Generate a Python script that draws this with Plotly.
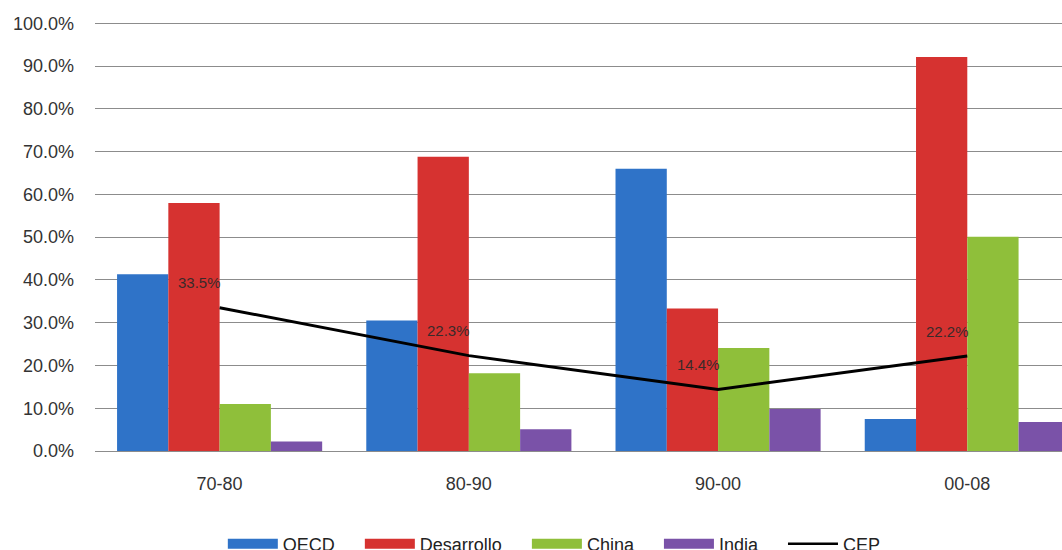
import plotly.graph_objects as go

periods = ["70-80", "80-90", "90-00", "00-08"]
oecd = [0.413, 0.305, 0.660, 0.075]
desarrollo = [0.580, 0.688, 0.333, 0.921]
china = [0.110, 0.182, 0.241, 0.501]
india = [0.022, 0.051, 0.098, 0.068]
cep = [0.335, 0.223, 0.144, 0.222]
cep_labels = ["33.5%", "22.3%", "14.4%", "22.2%"]

series = [
    ("OECD", oecd, "#2F73C8"),
    ("Desarrollo", desarrollo, "#D63230"),
    ("China", china, "#8FBF3A"),
    ("India", india, "#7A52A8"),
]

FONT = "Liberation Sans, Arial, sans-serif"
PAD = "\u00a0" * 4  # extra room between legend entries

fig = go.Figure()
for name, vals, color in series:
    fig.add_trace(go.Bar(
        x=periods, y=vals, name=name, marker_color=color,
        marker_line_width=0, showlegend=False,
    ))

fig.add_trace(go.Scatter(
    x=periods, y=cep, mode="lines", name="CEP",
    line=dict(color="#000000", width=3), showlegend=False,
))

# legend entries drawn as wide swatches
for name, _, color in series:
    fig.add_trace(go.Scatter(
        x=[periods[0]], y=[None], mode="lines", name=name + PAD,
        line=dict(color=color, width=10),
    ))
fig.add_trace(go.Scatter(
    x=[periods[0]], y=[None], mode="lines", name="CEP",
    line=dict(color="#000000", width=2.5),
))

for p, v, t in zip(periods, cep, cep_labels):
    fig.add_annotation(
        x=p, y=v, text=t, showarrow=False,
        xshift=-20, yshift=25,
        font=dict(family=FONT, size=15, color="#3a2a2a"),
    )

fig.update_layout(
    width=1062, height=550,
    margin=dict(l=95, r=0, t=22, b=99, autoexpand=False),
    paper_bgcolor="white", plot_bgcolor="white",
    barmode="group", bargap=0.177, bargroupgap=0,
    font=dict(family=FONT, size=18, color="#333333"),
    legend=dict(
        orientation="h", x=0.475, xanchor="center",
        y=-0.217, yanchor="middle",
        font=dict(family=FONT, size=18, color="#222222"),
        itemwidth=50, tracegroupgap=0,
    ),
)
fig.update_xaxes(
    type="category", range=[-0.5, 3.38], showgrid=False, showline=False,
    ticks="", ticklabelstandoff=20,
    tickfont=dict(family=FONT, size=18, color="#333333"),
)
fig.update_yaxes(
    range=[0, 1.003], dtick=0.1, tickformat=".1%",
    showgrid=True, gridcolor="#8c8c8c", gridwidth=1,
    zeroline=True, zerolinecolor="#8c8c8c", zerolinewidth=1,
    ticks="", ticklabelstandoff=20,
    tickfont=dict(family=FONT, size=18, color="#333333"),
)

fig.write_html("out.html")
